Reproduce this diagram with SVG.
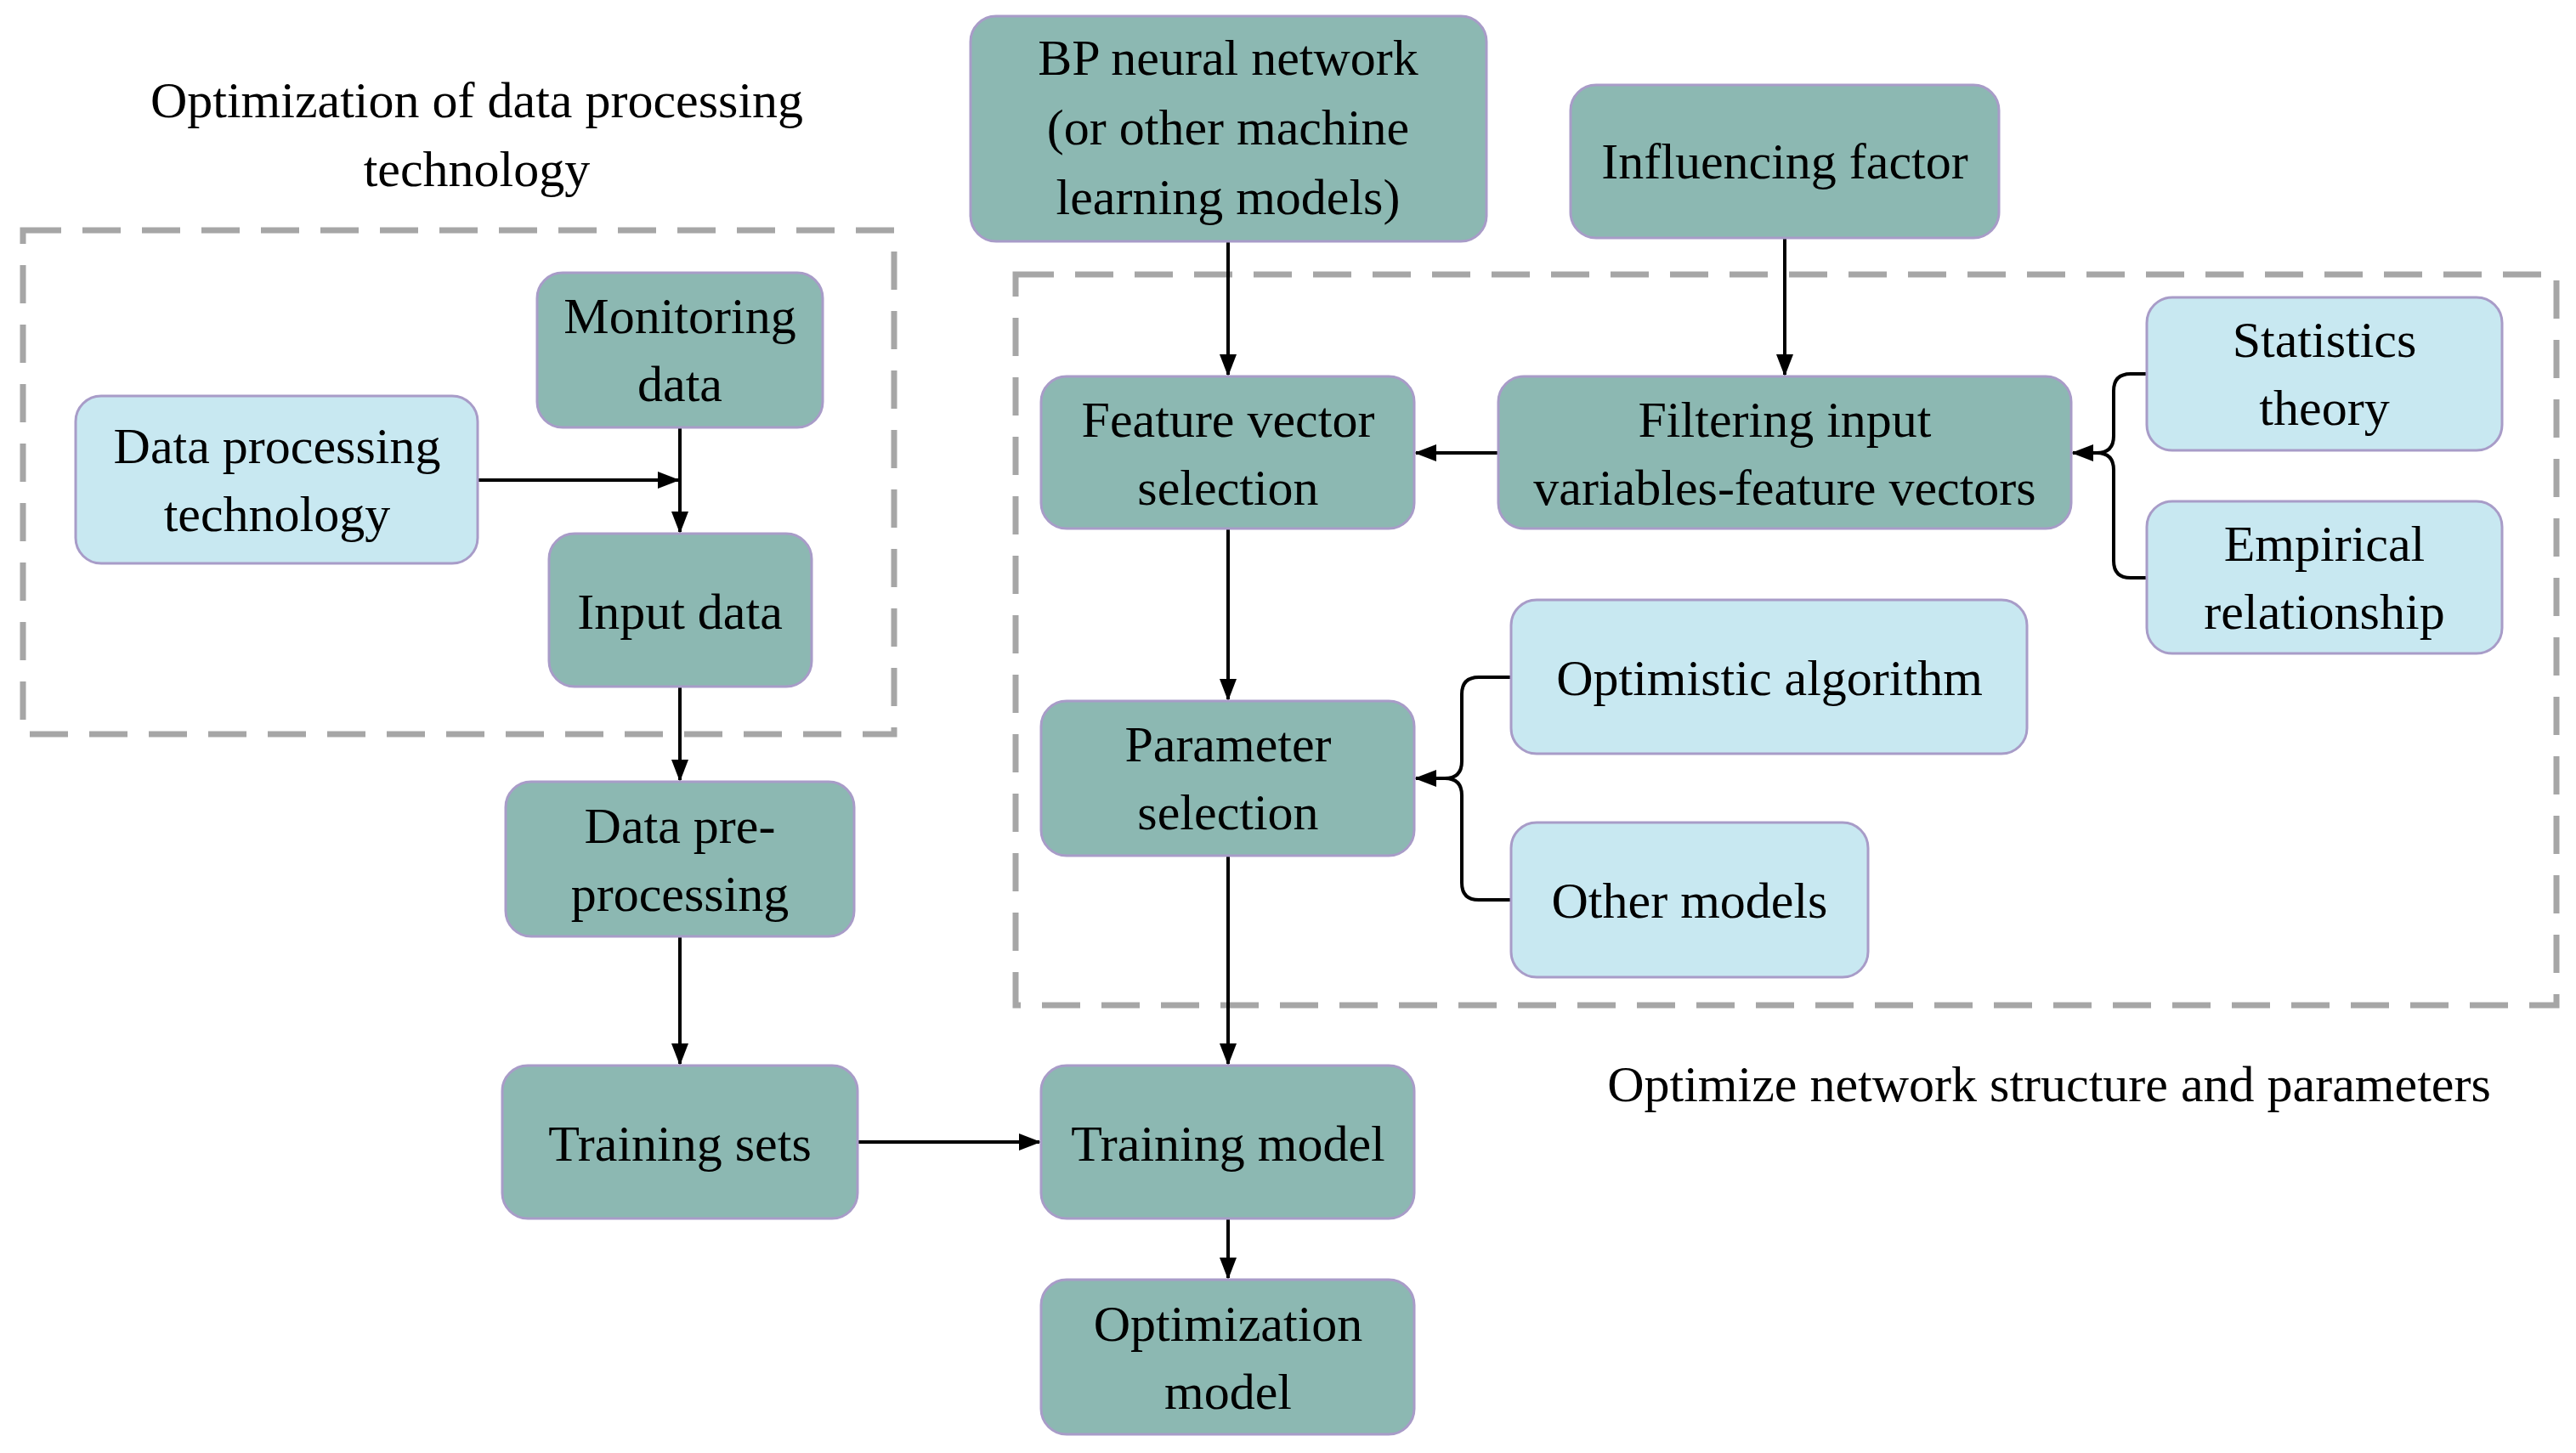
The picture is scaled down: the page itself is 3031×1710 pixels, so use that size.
<svg xmlns="http://www.w3.org/2000/svg" width="3031" height="1710" viewBox="0 0 3031 1710">
<defs>
<marker id="ah" markerWidth="10" markerHeight="10" refX="9" refY="5" orient="auto" markerUnits="userSpaceOnUse" viewBox="0 0 10 10"><path d="M0,0 L10,5 L0,10 z" fill="#000"/></marker>
<style>
.d{fill:#8cb8b2;stroke:#a89cc8;stroke-width:3}
.l{fill:#c8e8f1;stroke:#a89cc8;stroke-width:3}
text{font-family:"Liberation Serif","Times New Roman",serif;font-size:60px;fill:#000;text-anchor:middle}
.c{fill:none;stroke:#000;stroke-width:4}
.dash{fill:none;stroke:#a6a6a6;stroke-width:7;stroke-dasharray:45,25}
</style>
</defs>
<marker id="a" markerWidth="26" markerHeight="26" refX="24" refY="13" orient="auto" markerUnits="userSpaceOnUse"><path d="M0,3 L26,13 L0,23 z" fill="#000"/></marker>
<rect class="dash" x="27" y="271" width="1025" height="593"/>
<rect class="dash" x="1195" y="323" width="1813" height="860"/>
<text x="561" y="138">Optimization of data processing</text>
<text x="561" y="219">technology</text>
<text x="2411" y="1296">Optimize network structure and parameters</text>
<g id="connectors">
<path class="c" d="M1445,284 V441" marker-end="url(#a)"/>
<path class="c" d="M2100,280 V441" marker-end="url(#a)"/>
<path class="c" d="M1763,533 H1666" marker-end="url(#a)"/>
<path class="c" d="M2526,440 H2507 Q2487,440 2487,460 V513 Q2487,533 2467,533 H2439" marker-end="url(#a)"/>
<path class="c" d="M2526,680 H2507 Q2487,680 2487,660 V553 Q2487,533 2467,533"/>
<path class="c" d="M1445,622 V823" marker-end="url(#a)"/>
<path class="c" d="M1778,797 H1740 Q1720,797 1720,817 V896 Q1720,916 1700,916 H1666" marker-end="url(#a)"/>
<path class="c" d="M1778,1059 H1740 Q1720,1059 1720,1039 V936 Q1720,916 1700,916"/>
<path class="c" d="M1445,1007 V1252" marker-end="url(#a)"/>
<path class="c" d="M1009,1344 H1223" marker-end="url(#a)"/>
<path class="c" d="M1445,1434 V1504" marker-end="url(#a)"/>
<path class="c" d="M800,503 V626" marker-end="url(#a)"/>
<path class="c" d="M562,565 H798" marker-end="url(#a)"/>
<path class="c" d="M800,808 V918" marker-end="url(#a)"/>
<path class="c" d="M800,1102 V1252" marker-end="url(#a)"/>
</g>
<g id="bp"><rect class="d" x="1142" y="19" width="607" height="265" rx="30"/><text x="1445" y="88">BP neural network</text><text x="1445" y="170">(or other machine</text><text x="1445" y="252">learning models)</text></g>
<g id="influencing"><rect class="d" x="1848" y="100" width="504" height="180" rx="30"/><text x="2100" y="210">Influencing factor</text></g>
<g id="monitoring"><rect class="d" x="632" y="321" width="336" height="182" rx="30"/><text x="800" y="392">Monitoring</text><text x="800" y="472">data</text></g>
<g id="dpt"><rect class="l" x="89" y="466" width="473" height="197" rx="30"/><text x="326" y="545">Data processing</text><text x="326" y="625">technology</text></g>
<g id="input"><rect class="d" x="646" y="628" width="309" height="180" rx="30"/><text x="800" y="740">Input data</text></g>
<g id="pre"><rect class="d" x="595" y="920" width="410" height="182" rx="30"/><text x="800" y="992">Data pre-</text><text x="800" y="1072">processing</text></g>
<g id="sets"><rect class="d" x="591" y="1254" width="418" height="180" rx="30"/><text x="800" y="1366">Training sets</text></g>
<g id="feature"><rect class="d" x="1225" y="443" width="439" height="179" rx="30"/><text x="1445" y="514">Feature vector</text><text x="1445" y="594">selection</text></g>
<g id="filtering"><rect class="d" x="1763" y="443" width="674" height="179" rx="30"/><text x="2100" y="514">Filtering input</text><text x="2100" y="594">variables-feature vectors</text></g>
<g id="stat"><rect class="l" x="2526" y="350" width="418" height="180" rx="30"/><text x="2735" y="420">Statistics</text><text x="2735" y="500">theory</text></g>
<g id="emp"><rect class="l" x="2526" y="590" width="418" height="179" rx="30"/><text x="2735" y="660">Empirical</text><text x="2735" y="740">relationship</text></g>
<g id="param"><rect class="d" x="1225" y="825" width="439" height="182" rx="30"/><text x="1445" y="896">Parameter</text><text x="1445" y="976">selection</text></g>
<g id="opt"><rect class="l" x="1778" y="706" width="607" height="181" rx="30"/><text x="2082" y="818">Optimistic algorithm</text></g>
<g id="other"><rect class="l" x="1778" y="968" width="420" height="182" rx="30"/><text x="1988" y="1080">Other models</text></g>
<g id="tmodel"><rect class="d" x="1225" y="1254" width="439" height="180" rx="30"/><text x="1445" y="1366">Training model</text></g>
<g id="omodel"><rect class="d" x="1225" y="1506" width="439" height="182" rx="30"/><text x="1445" y="1578">Optimization</text><text x="1445" y="1658">model</text></g>
</svg>
